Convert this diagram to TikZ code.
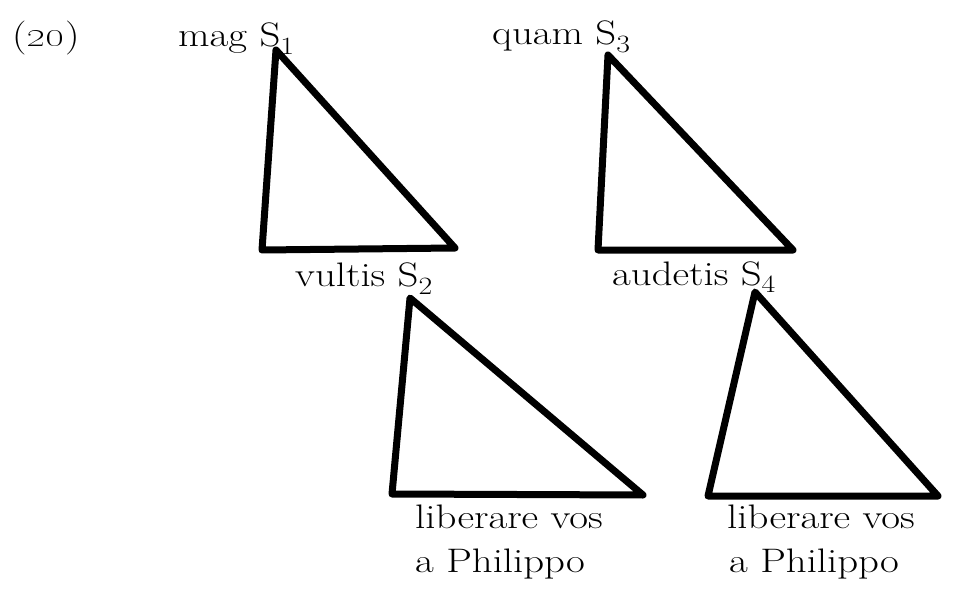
\documentclass[tikz,border=0pt]{standalone}
\usepackage{xcolor}
\usepackage{tikz}

\begin{document}
\begin{tikzpicture}[x=1pt,y=-1pt,
  lbl/.style={anchor=base west,inner sep=0pt,xscale=1.2,font=\fontsize{34}{40}\selectfont},
  tri/.style={line width=7pt,line join=round,line cap=round}]
\useasboundingbox (0,0) rectangle (954,591);
\node[lbl] (num) at (12,47) {(\oldstylenums{20})};
\node[lbl] (s1) at (178,47) {mag S$_1$};
\node[lbl] (s3) at (492,45) {quam S$_3$};
\node[lbl] (s2) at (295,287) {vultis S$_2$};
\node[lbl] (s4) at (612,285) {audetis S$_4$};
\node[lbl] (lib1) at (415,528) {liberare vos};
\node[lbl] (phil1) at (415,572) {a Philippo};
\node[lbl] (lib2) at (727,528) {liberare vos};
\node[lbl] (phil2) at (729,572) {a Philippo};
\draw[tri] (276,50) -- (262,250) -- (455,248) -- cycle;
\draw[tri] (608,55) -- (598,250) -- (793,250) -- cycle;
\draw[tri] (410,298) -- (392,494) -- (643,495) -- cycle;
\draw[tri] (755,292) -- (708,496) -- (938,496) -- cycle;
\end{tikzpicture}
\end{document}
